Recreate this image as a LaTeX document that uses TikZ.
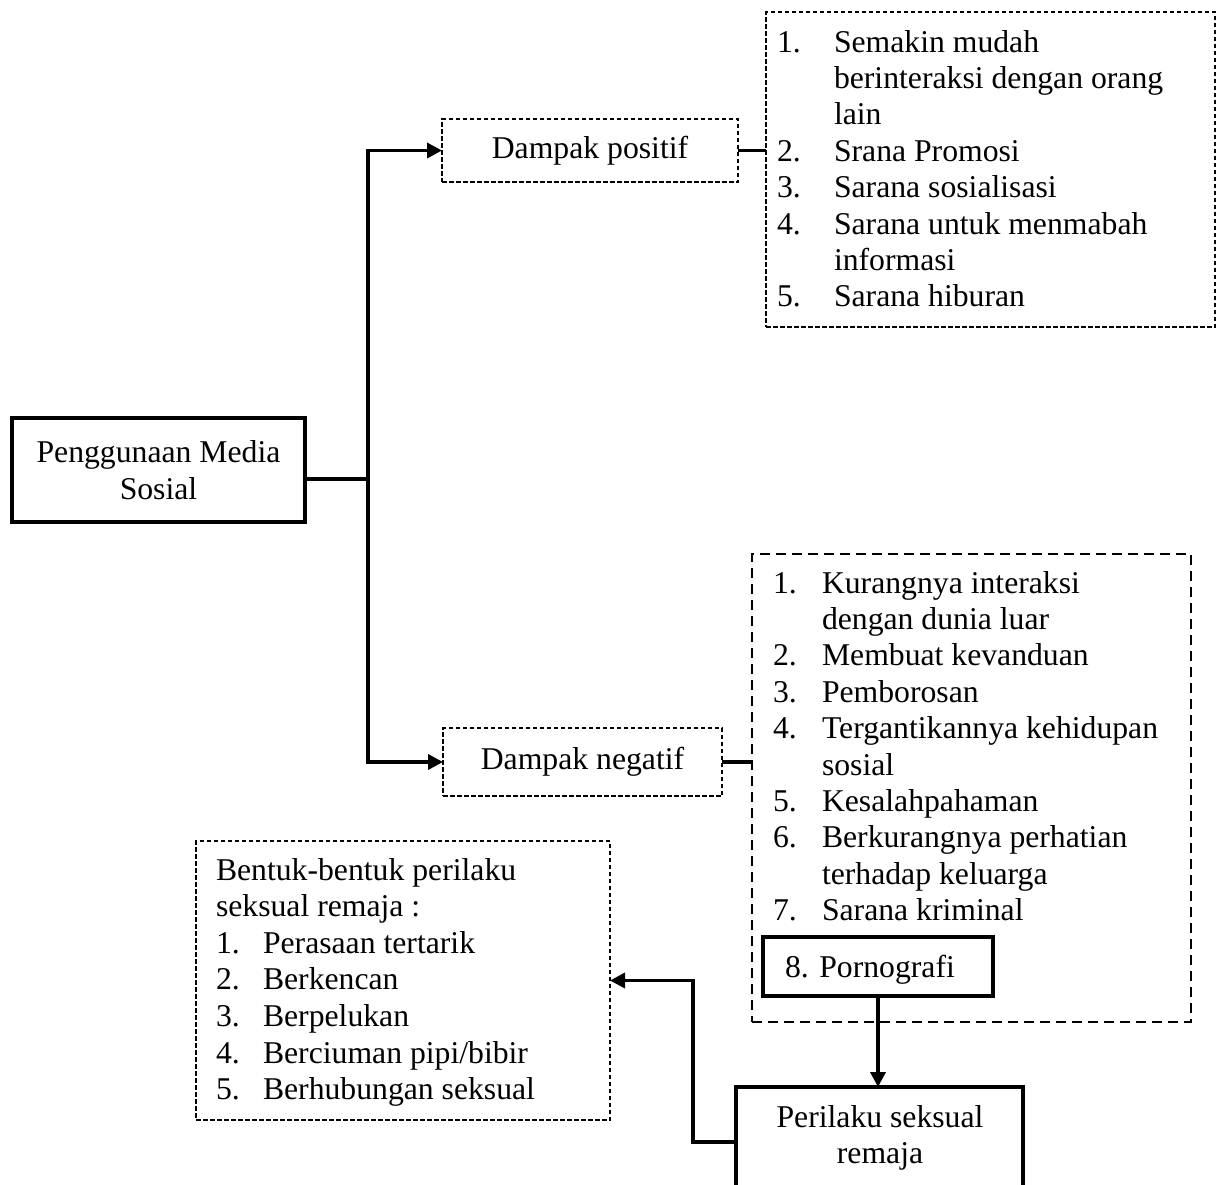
\documentclass[tikz,border=0pt]{standalone}
\usepackage{fontspec}
\setmainfont{Liberation Serif}
\usetikzlibrary{arrows.meta}
\newcommand\bodyfs{\fontsize{31.7}{36.5}\selectfont}
\begin{document}
\begin{tikzpicture}[x=1pt,y=-1pt,
  every node/.style={inner sep=0pt, outer sep=0pt, font=\bodyfs},
  thinbox/.style={draw, line width=1.3pt, dash pattern=on 4.5pt off 2.5pt, anchor=north west},
  thickdash/.style={draw, line width=2.8pt, dash pattern=on 10pt off 6pt, anchor=north west},
  solidbox/.style={draw, line width=3.5pt, anchor=north west},
  conn/.style={line width=3.5pt},
  arr/.style={line width=3.5pt, -{Triangle[length=15pt,width=15pt]}},
  txt/.style={anchor=base west}]
\useasboundingbox (0,0) rectangle (1218,1184);
\clip (0,0) rectangle (1218,1184);

% boxes
\node[solidbox, minimum width=293pt, minimum height=104pt, align=center] (main) at (12,418) {Penggunaan Media\\Sosial};
\node[thinbox, minimum width=296pt, minimum height=63pt] (pos) at (442,119) {Dampak positif};
\node[thinbox, minimum width=449pt, minimum height=315pt] (poslist) at (766,12) {};
\node[thinbox, minimum width=279pt, minimum height=68pt] (neg) at (443,728) {Dampak negatif};
\node[thickdash, minimum width=439pt, minimum height=468pt] (neglist) at (752,554) {};
\node[solidbox, minimum width=230pt, minimum height=59pt] (porn) at (763,937) {};
\node[solidbox, minimum width=287pt, minimum height=110pt] (per) at (736,1087) {};
\node[thinbox, minimum width=414pt, minimum height=279pt] (bentuk) at (196,841) {};

% positive list
\node[txt] (p1n) at (777,52) {1.};
\node[txt] (p1a) at (834,52) {Semakin mudah};
\node[txt] (p1b) at (834,88.4) {berinteraksi dengan orang};
\node[txt] (p1c) at (834,124.8) {lain};
\node[txt] (p2n) at (777,161.2) {2.};
\node[txt] (p2a) at (834,161.2) {Srana Promosi};
\node[txt] (p3n) at (777,197.6) {3.};
\node[txt] (p3a) at (834,197.6) {Sarana sosialisasi};
\node[txt] (p4n) at (777,234) {4.};
\node[txt] (p4a) at (834,234) {Sarana untuk menmabah};
\node[txt] (p4b) at (834,270.4) {informasi};
\node[txt] (p5n) at (777,306.8) {5.};
\node[txt] (p5a) at (834,306.8) {Sarana hiburan};

% negative list
\node[txt] (n1n) at (773,593) {1.};
\node[txt] (n1a) at (822,593) {Kurangnya interaksi};
\node[txt] (n1b) at (822,629.4) {dengan dunia luar};
\node[txt] (n2n) at (773,665.8) {2.};
\node[txt] (n2a) at (822,665.8) {Membuat kevanduan};
\node[txt] (n3n) at (773,702.2) {3.};
\node[txt] (n3a) at (822,702.2) {Pemborosan};
\node[txt] (n4n) at (773,738.6) {4.};
\node[txt] (n4a) at (822,738.6) {Tergantikannya kehidupan};
\node[txt] (n4b) at (822,775) {sosial};
\node[txt] (n5n) at (773,811.4) {5.};
\node[txt] (n5a) at (822,811.4) {Kesalahpahaman};
\node[txt] (n6n) at (773,847.8) {6.};
\node[txt] (n6a) at (822,847.8) {Berkurangnya perhatian};
\node[txt] (n6b) at (822,884.2) {terhadap keluarga};
\node[txt] (n7n) at (773,920.6) {7.};
\node[txt] (n7a) at (822,920.6) {Sarana kriminal};
\node[txt] (n8) at (785,977) {8. Pornografi};

% perilaku text
\node[anchor=base] (per1) at (880,1127) {Perilaku seksual};
\node[anchor=base] (per2) at (880,1163) {remaja};

% bentuk list
\node[txt] (b0a) at (216,880) {Bentuk-bentuk perilaku};
\node[txt] (b0b) at (216,916.6) {seksual remaja :};
\node[txt] (b1n) at (216,953.2) {1.};
\node[txt] (b1a) at (263,953.2) {Perasaan tertarik};
\node[txt] (b2n) at (216,989.8) {2.};
\node[txt] (b2a) at (263,989.8) {Berkencan};
\node[txt] (b3n) at (216,1026.4) {3.};
\node[txt] (b3a) at (263,1026.4) {Berpelukan};
\node[txt] (b4n) at (216,1063) {4.};
\node[txt] (b4a) at (263,1063) {Berciuman pipi/bibir};
\node[txt] (b5n) at (216,1099.6) {5.};
\node[txt] (b5a) at (263,1099.6) {Berhubungan seksual};

% connectors
\coordinate (trunk) at (368,479);
\coordinate (bend) at (693,980.5);
\draw[conn] (main.east |- trunk) -- (trunk);
\draw[arr] (trunk) |- (pos.west);
\draw[arr] (trunk) |- (neg.west);
\draw[conn] (pos.east) -- (poslist.west |- pos.east);
\draw[conn] (neg.east) -- (neglist.west |- neg.east);
\draw[arr] (porn.south) -- (porn.south |- per.north);
\draw[arr] (per.west) -| (bend) -- (bentuk.east);
\end{tikzpicture}
\end{document}
